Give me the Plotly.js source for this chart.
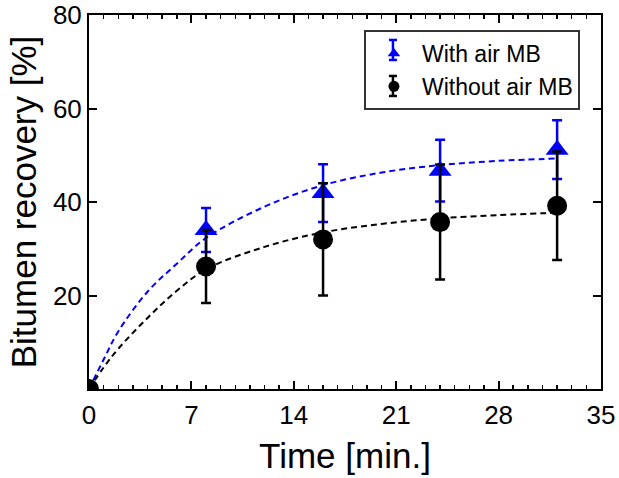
<!DOCTYPE html>
<html>
<head>
<meta charset="utf-8">
<script src="https://cdn.plot.ly/plotly-3.0.1.min.js"></script>
<style>html,body{margin:0;padding:0;background:#fff;}#chart{width:619px;height:478px;}</style>
</head>
<body>
<div id="chart"></div>
<script>
// Measured data
var time = [0, 8, 16, 24, 32];
var withAir = [0, 34.0, 41.9, 46.7, 51.2];
var withAirErr = [0, 4.7, 6.2, 6.6, 6.3];
var withoutAir = [0, 26.2, 32.0, 35.7, 39.2];
var withoutAirErr = [0, 7.8, 12.0, 12.3, 11.6];

// Fitted curves
var fitTime = [0, 1, 2, 4, 6, 8, 12, 16, 20, 24, 28, 32];
var fitWithAir = [0, 6.3, 12.3, 20.8, 26.8, 32.3, 39.0, 43.6, 46.3, 47.9, 48.8, 49.3];
var fitWithoutAir = [0, 4.6, 8.6, 15.2, 21.0, 25.6, 30.4, 33.5, 35.3, 36.5, 37.2, 37.7];

var xTicks = [0, 7, 14, 21, 28, 35];
var yTicks = [20, 40, 60, 80];

var FONT = 'Liberation Sans, Arial, sans-serif';
var BLUE = '#0000ff';

var traces = [
  {x: fitTime, y: fitWithAir, mode: 'lines', line: {color: BLUE, width: 2, dash: '6px,4px', shape: 'spline'}, showlegend: false, hoverinfo: 'skip'},
  {x: fitTime, y: fitWithoutAir, mode: 'lines', line: {color: '#000', width: 2, dash: '6px,4px', shape: 'spline'}, showlegend: false, hoverinfo: 'skip'},
  {x: time, y: withAir, mode: 'markers', name: 'With air MB', showlegend: false,
   marker: {symbol: 'triangle-up', size: 20, color: BLUE},
   error_y: {type: 'data', array: withAirErr, visible: true, color: BLUE, thickness: 2.5, width: 5}},
  {x: time, y: withoutAir, mode: 'markers', name: 'Without air MB', showlegend: false,
   marker: {symbol: 'circle', size: 20, color: '#000'},
   error_y: {type: 'data', array: withoutAirErr, visible: true, color: '#000', thickness: 2.5, width: 5}},
  {x: [null], y: [null], mode: 'markers', name: 'With air MB', marker: {symbol: 'triangle-up', size: 11, color: BLUE}},
  {x: [null], y: [null], mode: 'markers', name: 'Without air MB', marker: {symbol: 'circle', size: 11, color: '#000'}}
];

// Legend decoration: small error-bar glyphs behind the legend symbols
var LX = 0.537, LY = 0.96;
function glyph(dy, color) {
  var sx = 29, h = 10, c = 4;
  var base = {type: 'line', xref: 'paper', yref: 'paper', xsizemode: 'pixel', ysizemode: 'pixel',
              xanchor: LX, yanchor: LY, layer: 'above', line: {color: color, width: 2.5}};
  return [
    Object.assign({}, base, {x0: sx, x1: sx, y0: dy - h, y1: dy + h}),
    Object.assign({}, base, {x0: sx - c, x1: sx + c, y0: dy + h, y1: dy + h}),
    Object.assign({}, base, {x0: sx - c, x1: sx + c, y0: dy - h, y1: dy - h})
  ];
}
var shapes = glyph(-20, BLUE).concat(glyph(-56, '#000'));

var layout = {
  width: 619, height: 478,
  margin: {l: 89, r: 18, t: 15, b: 89},
  paper_bgcolor: '#fff', plot_bgcolor: '#fff',
  font: {family: FONT, color: '#000'},
  xaxis: {
    range: [0, 35], tickvals: xTicks, ticktext: xTicks.map(String),
    ticks: 'inside', ticklen: 8, tickwidth: 2, tickcolor: '#000',
    minor: {dtick: 1, tick0: 0, ticks: 'inside', ticklen: 4, tickwidth: 1.5, tickcolor: '#000'},
    showline: true, linecolor: '#000', linewidth: 2, mirror: 'ticks',
    showgrid: false, zeroline: false,
    tickfont: {size: 26, family: FONT}, ticklabelstandoff: 2,
    title: {text: 'Time [min.]', font: {size: 35, family: FONT}, standoff: 14}
  },
  yaxis: {
    range: [0, 80], tickvals: yTicks, ticktext: yTicks.map(String),
    ticks: 'inside', ticklen: 8, tickwidth: 2, tickcolor: '#000',
    showline: true, linecolor: '#000', linewidth: 2, mirror: 'ticks',
    showgrid: false, zeroline: false,
    tickfont: {size: 26, family: FONT},
    title: {text: 'Bitumen recovery [%]', font: {size: 35, family: FONT}, standoff: 6}
  },
  shapes: shapes,
  legend: {
    x: LX, y: LY, xanchor: 'left', yanchor: 'top',
    bgcolor: 'rgba(255,255,255,0)', bordercolor: '#333', borderwidth: 2,
    font: {size: 23, family: FONT}, itemwidth: 46, tracegroupgap: 0
  },
  showlegend: true
};

Plotly.newPlot('chart', traces, layout, {displayModeBar: false, staticPlot: true});
</script>
</body>
</html>
